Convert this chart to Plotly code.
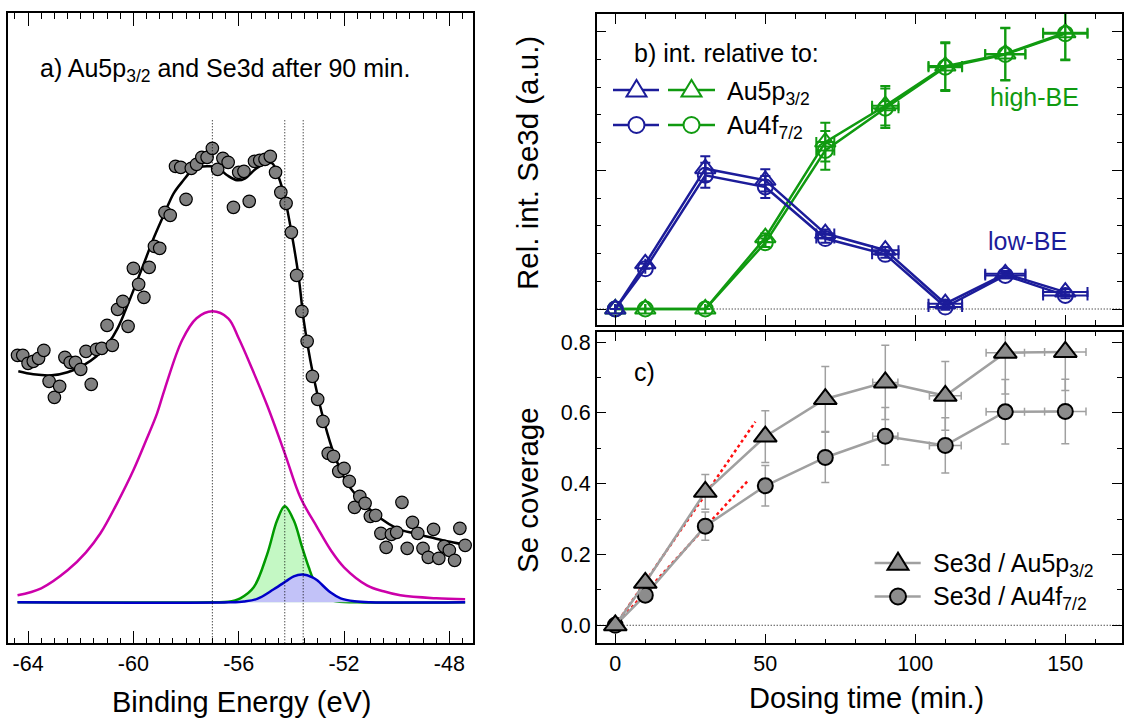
import plotly.graph_objects as go

W, H = 1124, 718
FONT = "Liberation Sans"

# ---------------- Panel a data ----------------
be_points = [-64.4, -64.2, -64.0, -63.8, -63.6, -63.4, -63.2, -63.0, -62.8, -62.6,
             -62.4, -62.2, -62.0, -61.8, -61.6, -61.4, -61.2, -61.0, -60.8, -60.6,
             -60.4, -60.2, -60.0, -59.8, -59.6, -59.4, -59.2, -59.0, -58.8, -58.6,
             -58.4, -58.2, -58.0, -57.8, -57.6, -57.4, -57.2, -57.0, -56.8, -56.6,
             -56.4, -56.2, -56.0, -55.8, -55.6, -55.4, -55.2, -55.0, -54.8, -54.6,
             -54.4, -54.2, -54.0, -53.8, -53.6, -53.4, -53.2, -53.0, -52.8, -52.6,
             -52.4, -52.2, -52.0, -51.8, -51.6, -51.4, -51.2, -51.0, -50.8, -50.6,
             -50.4, -50.2, -50.0, -49.8, -49.6, -49.4, -49.2, -49.0, -48.8, -48.6,
             -48.4, -48.2, -48.0, -47.8, -47.6, -47.4]
int_points = [247, 247, 239, 241, 244, 252, 221, 205, 216, 245,
              240, 240, 233, 251, 218, 253, 254, 277, 257, 293,
              301, 276, 334, 318, 305, 335, 356, 354, 390, 387,
              436, 435, 403, 434, 438, 445, 445, 454, 433, 444,
              440, 395, 430, 431, 401, 441, 442, 443, 446, 430,
              410, 399, 370, 327, 291, 261, 226, 203, 181, 149,
              146, 131, 134, 121, 95, 106, 99, 86, 87, 69,
              55, 68, 70, 100, 54, 80, 69, 54, 45, 73,
              44, 56, 52, 42, 74, 57]

fit_be = [-64.37, -63.8, -63.1, -62.5, -61.9, -61.4, -60.95, -60.6, -60.3, -59.7,
          -59.2, -58.8, -58.47, -58.1, -57.84, -57.5, -57.2, -56.82, -56.44, -56.06,
          -55.75, -55.37, -54.99, -54.73, -54.48, -54.23, -53.97, -53.72, -53.53, -53.28,
          -53.02, -52.77, -52.39, -51.88, -51.25, -50.62, -49.99, -49.36, -48.72, -48.09,
          -47.48]
fit_int = [231, 228, 227, 230, 237, 246, 259, 274, 292, 332,
           366, 390, 409, 422, 430, 435, 436, 435, 427, 422,
           424, 433, 439, 439, 425, 402, 366, 325, 282, 242,
           209, 182, 149, 119, 99, 84, 74, 69, 65, 61,
           58]

au5p_be = [-64.4, -63.5, -62.5, -61.8, -61.25, -60.6, -60.0, -59.5, -59.1, -58.8,
           -58.15, -57.6, -57.0, -56.4, -56.0, -55.5, -54.92, -54.25, -53.66, -53.02,
           -52.5, -52.0, -51.13, -50.5, -49.86, -48.5, -47.4]
au5p_int = [7, 14, 32, 50, 69, 100, 132, 163, 189, 214,
            262, 284, 291, 284, 264, 234, 197, 149, 105, 75,
            52, 35, 17, 11, 7, 4, 3]

se_high_be = [-64.4, -57.0, -56.4, -55.94, -55.43, -54.92, -54.54, -54.25, -53.91, -53.59,
              -53.34, -53.1, -52.8, -52.4, -51.5, -47.4]
se_high_int = [0, 0, 0.5, 4, 15, 48, 82, 96, 82, 55,
               35, 19, 7, 1.5, 0, 0]

se_low_be = [-64.4, -56.3, -55.8, -55.3, -54.67, -54.2, -53.91, -53.56, -53.2, -53.02,
             -52.52, -52.13, -51.6, -51.0, -47.4]
se_low_int = [0, 0, 0.8, 3.4, 13, 21, 26, 27.7, 25, 22,
              10, 4, 1, 0, 0]

peak_positions = [-57.0, -54.25, -53.55]

be_ticks = [-64, -60, -56, -52, -48]
be_ticktext = ["-64", "-60", "-56", "-52", "-48"]

# ---------------- Panels b, c data ----------------
times = [0, 10, 30, 50, 70, 90, 110, 130, 150]
t_err_b = [0, 0, 0, 0, 3.0, 4.4, 5.6, 6.7, 7.4]
t_err_c = [0, 0, 0, 0, 0, 4.2, 5.3, 6.4, 6.9]

low_au5p = [0, 0.163, 0.506, 0.464, 0.272, 0.212, 0.019, 0.127, 0.061]
low_au5p_err = [0, 0, 0.045, 0.04, 0.015, 0.012, 0.01, 0.01, 0.01]
low_au4f = [0, 0.145, 0.482, 0.440, 0.254, 0.197, 0.007, 0.121, 0.049]
low_au4f_err = [0, 0, 0.045, 0.04, 0.015, 0.012, 0.01, 0.01, 0.01]
high_au5p = [0, 0, 0, 0.257, 0.602, 0.733, 0.876, 0.92, 0.996]
high_au5p_err = [0, 0, 0, 0.015, 0.07, 0.071, 0.086, 0.094, 0.096]
high_au4f = [0, 0, 0, 0.239, 0.572, 0.724, 0.872, 0.918, 0.993]
high_au4f_err = [0, 0, 0, 0.015, 0.07, 0.071, 0.086, 0.094, 0.096]

cov_au5p = [0, 0.12, 0.377, 0.533, 0.639, 0.686, 0.648, 0.77, 0.772]
cov_au5p_err = [0, 0, 0.049, 0.073, 0.092, 0.105, 0.097, 0.117, 0.109]
cov_au4f = [0, 0.085, 0.28, 0.394, 0.474, 0.534, 0.508, 0.603, 0.604]
cov_au4f_err = [0, 0, 0.04, 0.057, 0.071, 0.081, 0.078, 0.091, 0.091]

lin_t_au5p = [0, 46.7]
lin_au5p = [0, 0.575]
lin_t_au4f = [0, 44.6]
lin_au4f = [0, 0.412]

# ---------------- styles ----------------
MAG = "#cc00aa"
GRN = "#009a00"
GRN_FILL = "#c4f8c4"
BLU = "#0000c8"
BLU_FILL = "#c2c2f8"
NAVY = "#1c1c9a"
GRN_B = "#109a10"
GRAY_L = "#a0a0a0"
GRAY_M = "#8c8c8c"
FINE_DOT = "1px,2px"

fig = go.Figure()

# panel a
fig.add_trace(go.Scatter(x=se_high_be, y=se_high_int, mode="lines", line=dict(color=GRN, width=2.5, shape="spline"),
                         fill="tozeroy", fillcolor=GRN_FILL, xaxis="x", yaxis="y", showlegend=False))
fig.add_trace(go.Scatter(x=se_low_be, y=se_low_int, mode="lines", line=dict(color=BLU, width=2.5, shape="spline"),
                         fill="tozeroy", fillcolor=BLU_FILL, xaxis="x", yaxis="y", showlegend=False))
fig.add_trace(go.Scatter(x=au5p_be, y=au5p_int, mode="lines", line=dict(color=MAG, width=2.5, shape="spline"),
                         xaxis="x", yaxis="y", showlegend=False))
fig.add_trace(go.Scatter(x=fit_be, y=fit_int, mode="lines", line=dict(color="black", width=2.5, shape="spline"),
                         xaxis="x", yaxis="y", showlegend=False))
fig.add_trace(go.Scatter(x=be_points, y=int_points, mode="markers",
                         marker=dict(size=12.5, color="#808080", line=dict(color="black", width=1.2)),
                         xaxis="x", yaxis="y", showlegend=False))

# panel b
def btrace(y, yerr, color, symbol, size):
    return go.Scatter(x=times, y=y, mode="lines+markers",
                      line=dict(color=color, width=2.5),
                      marker=dict(symbol=symbol, size=size, color=color, line=dict(color=color, width=2)),
                      error_y=dict(type="data", array=yerr, color=color, thickness=2, width=5),
                      error_x=dict(type="data", array=t_err_b, color=color, thickness=2, width=5),
                      xaxis="x2", yaxis="y2", showlegend=False)

fig.add_trace(btrace(high_au4f, high_au4f_err, GRN_B, "circle-open", 15))
fig.add_trace(btrace(high_au5p, high_au5p_err, GRN_B, "triangle-up-open", 18))
fig.add_trace(btrace(low_au4f, low_au4f_err, NAVY, "circle-open", 15))
fig.add_trace(btrace(low_au5p, low_au5p_err, NAVY, "triangle-up-open", 18))

# panel c
fig.add_trace(go.Scatter(x=lin_t_au5p, y=lin_au5p, mode="lines", line=dict(color="#ff1010", width=2.5, dash="dot"),
                         xaxis="x3", yaxis="y3", showlegend=False))
fig.add_trace(go.Scatter(x=lin_t_au4f, y=lin_au4f, mode="lines", line=dict(color="#ff1010", width=2.5, dash="dot"),
                         xaxis="x3", yaxis="y3", showlegend=False))

def ctrace(y, yerr, symbol, size):
    return go.Scatter(x=times, y=y, mode="lines+markers",
                      line=dict(color=GRAY_L, width=2.5),
                      marker=dict(symbol=symbol, size=size, color=GRAY_M, line=dict(color="black", width=2)),
                      error_y=dict(type="data", array=yerr, color=GRAY_L, thickness=1.5, width=4),
                      error_x=dict(type="data", array=t_err_c, color=GRAY_L, thickness=1.5, width=4),
                      xaxis="x3", yaxis="y3", showlegend=False)

fig.add_trace(ctrace(cov_au4f, cov_au4f_err, "circle", 15))
fig.add_trace(ctrace(cov_au5p, cov_au5p_err, "triangle-up", 20))

# ---------------- axes ----------------
def px_x(p):
    return p / W

def px_y(p):
    return 1 - p / H

axis_common = dict(showline=True, linecolor="black", linewidth=1.5, mirror="ticks",
                   ticks="inside", tickcolor="black", tickwidth=1.3,
                   showgrid=False, zeroline=False,
                   tickfont=dict(family=FONT, size=21.5, color="black"))

fig.update_layout(
    width=W, height=H, margin=dict(l=0, r=0, t=0, b=0),
    paper_bgcolor="white", plot_bgcolor="white",
    font=dict(family=FONT, color="black", size=21),
    xaxis=dict(domain=[px_x(8.3), px_x(473.3)], range=[-64.75, -47.09], anchor="y",
               tickmode="array", tickvals=be_ticks, ticktext=be_ticktext, ticklen=13,
               minor=dict(tick0=-64, dtick=0.5, ticklen=6, ticks="inside", tickcolor="black", tickwidth=1.3),
               **axis_common),
    yaxis=dict(domain=[px_y(643.3), px_y(13.3)], range=[-41, 589], anchor="x",
               showline=True, linecolor="black", linewidth=1.5, mirror=True, ticks="",
               showticklabels=False, showgrid=False, zeroline=False),
    xaxis2=dict(domain=[px_x(596.7), px_x(1121.7)], range=[-6.2, 168.8], anchor="y2",
                dtick=50, tick0=0, ticklen=10, showticklabels=False,
                minor=dict(dtick=10, tick0=0, ticklen=5, ticks="inside", tickcolor="black", tickwidth=1.3),
                **axis_common),
    yaxis2=dict(domain=[px_y(325), px_y(14)], range=[-0.0577, 1.0638], anchor="x2",
                dtick=0.5, tick0=0, ticklen=10, showticklabels=False,
                minor=dict(dtick=0.1, tick0=0, ticklen=5, ticks="inside", tickcolor="black", tickwidth=1.3),
                **axis_common),
    xaxis3=dict(domain=[px_x(596.7), px_x(1121.7)], range=[-6.2, 168.8], anchor="y3",
                dtick=50, tick0=0, ticklen=10,
                minor=dict(dtick=10, tick0=0, ticklen=5, ticks="inside", tickcolor="black", tickwidth=1.3),
                **axis_common),
    yaxis3=dict(domain=[px_y(643.3), px_y(331.5)], range=[-0.0509, 0.8297], anchor="x3",
                dtick=0.2, tick0=0, ticklen=10, tickformat=".1f",
                minor=dict(dtick=0.1, tick0=0, ticklen=5, ticks="inside", tickcolor="black", tickwidth=1.3),
                **axis_common),
)

shapes = []
# dotted guide lines panel a
for pos in peak_positions:
    shapes.append(dict(type="line", xref="x", yref="y", x0=pos, x1=pos, y0=-41, y1=483,
                       line=dict(color="black", width=1, dash=FINE_DOT), layer="above"))
# baselines panels b and c
shapes.append(dict(type="line", xref="x2 domain", yref="y2", x0=0, x1=1, y0=0, y1=0,
                   line=dict(color="black", width=1, dash=FINE_DOT), layer="below"))
shapes.append(dict(type="line", xref="x3 domain", yref="y3", x0=0, x1=1, y0=0, y1=0,
                   line=dict(color="black", width=1, dash=FINE_DOT), layer="below"))

def seg(x0, x1, y, color, width=2.5):
    return dict(type="line", xref="paper", yref="paper", x0=px_x(x0), x1=px_x(x1), y0=px_y(y), y1=px_y(y),
                line=dict(color=color, width=width), layer="above")

def tri(xc, yc, w, h, edge, fill, lw=2):
    hw = w / 2
    path = f"M {-hw},{-h/3:.2f} L {hw},{-h/3:.2f} L 0,{2*h/3:.2f} Z"
    return dict(type="path", xref="paper", yref="paper", xsizemode="pixel", ysizemode="pixel",
                xanchor=px_x(xc), yanchor=px_y(yc), path=path,
                line=dict(color=edge, width=lw), fillcolor=fill, layer="above")

def circ(xc, yc, r, edge, fill, lw=2):
    return dict(type="circle", xref="paper", yref="paper", xsizemode="pixel", ysizemode="pixel",
                xanchor=px_x(xc), yanchor=px_y(yc), x0=-r, x1=r, y0=-r, y1=r,
                line=dict(color=edge, width=lw), fillcolor=fill, layer="above")

# legend panel b
for (x0, x1, xc, col) in [(613, 659, 636.5, NAVY), (668, 715, 691.5, GRN_B)]:
    shapes.append(seg(x0, x1, 90, col))
    shapes.append(tri(xc, 91, 20, 16.5, col, "white"))
    shapes.append(seg(x0, x1, 125, col))
    shapes.append(circ(xc, 125, 8, col, "white"))
# legend panel c
shapes.append(seg(874.6, 920.7, 563, GRAY_L, 2.5))
shapes.append(tri(898, 564, 21, 17, "black", GRAY_M))
shapes.append(seg(874.6, 920.7, 596.5, GRAY_L, 2.5))
shapes.append(circ(898, 596.5, 8, "black", GRAY_M))

fig.update_layout(shapes=shapes)

def ann(text, x, y, size=25, color="black", xanchor="left", yanchor="middle", angle=0):
    return dict(text=text, x=px_x(x), y=px_y(y), xref="paper", yref="paper", showarrow=False,
                xanchor=xanchor, yanchor=yanchor, textangle=angle,
                font=dict(family=FONT, size=size, color=color))

annotations = [
    ann("a) Au5p<sub>3/2</sub> and Se3d after 90 min.", 38, 70),
    ann("b) int. relative to:", 632, 53),
    ann("Au5p<sub>3/2</sub>", 725, 93),
    ann("Au4f<sub>7/2</sub>", 725, 127),
    ann("high-BE", 1034, 97, color=GRN_B, xanchor="center"),
    ann("low-BE", 1027, 241, color=NAVY, xanchor="center"),
    ann("c)", 632, 372),
    ann("Se3d / Au5p<sub>3/2</sub>", 931, 565),
    ann("Se3d / Au4f<sub>7/2</sub>", 931, 598),
    ann("Binding Energy (eV)", 242, 702, size=29, xanchor="center"),
    ann("Dosing time (min.)", 866, 698, size=29, xanchor="center"),
    ann("Rel. int. Se3d (a.u.)", 527, 163, size=29.5, xanchor="center", angle=-90),
    ann("Se coverage", 527, 490, size=29.5, xanchor="center", angle=-90),
]
fig.update_layout(annotations=annotations)

fig.write_html("out.html", config={"displayModeBar": False},
               post_script="document.body.style.margin='0px';document.body.style.overflow='hidden';")
